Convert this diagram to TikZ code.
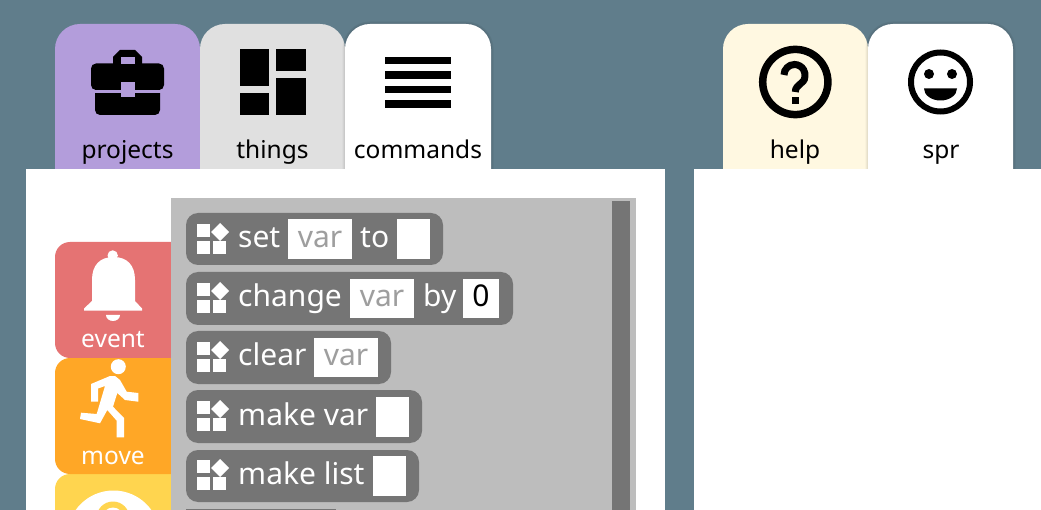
\documentclass[tikz,border=0pt]{standalone}
\usepackage{fontspec}
\setmainfont{Noto Sans}
\usetikzlibrary{positioning,shapes.geometric}
\definecolor{backblue}{HTML}{607D8B}
\definecolor{projcol}{HTML}{B39DDB}
\definecolor{thingcol}{HTML}{E0E0E0}
\definecolor{helpcol}{HTML}{FFF8E1}
\definecolor{eventcol}{HTML}{E57373}
\definecolor{movecol}{HTML}{FFA726}
\definecolor{looksol}{HTML}{FFD54F}
\definecolor{panelcol}{HTML}{BDBDBD}
\definecolor{blockcol}{HTML}{757575}
\definecolor{varcol}{HTML}{9E9E9E}
\newcommand{\toptab}[3]{\fill[#3,rounded corners=25pt] (#1,200) -- (#1,24) -- (#2,24) -- (#2,200) -- cycle;}
\newcommand{\tabshade}[2]{%
  \draw[black,opacity=.05,line width=5pt,rounded corners=25pt] (#1,200) -- (#1,24) -- (#2,24) -- (#2,200);
  \draw[black,opacity=.05,line width=2.5pt,rounded corners=25pt] (#1,200) -- (#1,24) -- (#2,24) -- (#2,200);}
\newcommand{\sidetab}[4]{\fill[#4,rounded corners=15pt] (200,#2) -- (#1,#2) -- (#1,#3) -- (200,#3) -- cycle;}
\newcommand{\blockicon}[2]{%
  \fill[white] (#1+.3,#2+2) rectangle ++(12.7,13);
  \fill[white] (#1+.3,#2+19) rectangle ++(12.7,13);
  \fill[white] (#1+16,#2+19) rectangle ++(13,13);
  \fill[white] (#1+23,#2+1) -- ++(9,9) -- ++(-9,9) -- ++(-9,-9) -- cycle;}
\tikzset{
  x=1pt,y=-1pt,
  tablab/.style={font=\fontsize{24.5}{28}\selectfont,text=black,inner sep=0pt,anchor=base},
  sidelab/.style={font=\fontsize{24.5}{28}\selectfont,text=white,inner sep=0pt,anchor=base},
  block/.style={fill=blockcol,rounded corners=12pt},
  blocklab/.style={font=\fontsize{30}{34}\selectfont,text=white,inner sep=0pt,anchor=base west},
  slot/.style={fill=white},
  varlab/.style={font=\fontsize{30}{34}\selectfont,text=varcol,inner sep=0pt,anchor=base},
}
\begin{document}
\begin{tikzpicture}
  \useasboundingbox (0,0) rectangle (1041,510);
  \fill[backblue] (0,0) rectangle (1041,510);
  % top tabs
  \toptab{55}{200}{projcol}
  \toptab{200}{345}{thingcol}
  \tabshade{345}{491}
  \toptab{345}{491}{white}
  \toptab{723}{868}{helpcol}
  \tabshade{868}{1013}
  \toptab{868}{1013}{white}
  \node[tablab] (projects) at (127.5,158.5) {projects};
  \node[tablab] (things) at (272.5,158.5) {things};
  \node[tablab] (commands) at (418,158.5) {commands};
  \node[tablab] (help) at (795,158.5) {help};
  \node[tablab] (spr) at (941,158.5) {spr};
  % briefcase
  \fill[black,rounded corners=5pt] (91,63.5) rectangle (164,90);
  \fill[black,rounded corners=5pt] (95,80) -- (160,80) -- (160,115) -- (95,115) -- cycle;
  \fill[projcol] (90,90) rectangle (165,93);
  \fill[black] (113,64) -- (113,57) -- (120,50) -- (135,50) -- (142,57) -- (142,64) -- cycle;
  \fill[projcol] (120.5,57) rectangle (135,64);
  \fill[projcol] (120.5,82) rectangle (135,97);
  % things icon
  \fill[black] (240,49) rectangle (269,86);
  \fill[black] (276,49) rectangle (306,71);
  \fill[black] (276,78) rectangle (306,115);
  \fill[black] (240,93) rectangle (269,115);
  % commands icon
  \foreach \y in {57,71.5,86,100.5} \fill[black] (385,\y) rectangle (451,\y+7.5);
  % help icon
  \draw[black,line width=7.5pt] (795.3,82) circle (32.6);
  \draw[black,line width=7pt] (784,75) arc (180:370:10.5) .. controls (804.84,84) and (795.3,84) .. (795.3,92);
  \fill[black] (791.8,97) rectangle (799,104);
  % smile icon
  \draw[black,line width=6pt] (940.5,82) circle (29.5);
  \fill[black] (929,74) circle (5);
  \fill[black] (952,74) circle (5);
  \fill[black] (957,88.5) arc [start angle=0,end angle=180,x radius=16.5,y radius=12] -- cycle;
  % panels
  \fill[white] (26,169) rectangle (665,510);
  \fill[white] (694,169) rectangle (1041,510);
  % side tabs
  \sidetab{55}{474}{590}{looksol}
  \sidetab{55}{358}{474}{movecol}
  \sidetab{55}{242}{358}{eventcol}
  \node[sidelab] (event) at (113,347.5) {event};
  \node[sidelab] (move) at (113,464) {move};
  % bell
  \fill[white] (112.7,255.5) circle (5.2);
  \fill[white] (84,310.7) -- (84,308.5) -- (92,301) -- (92,280) .. controls (92,265) and (100,257) .. (113.5,257) .. controls (127,257) and (135,265) .. (135,280) -- (135,301) -- (142,308.5) -- (142,310.7) -- cycle;
  \fill[white] (120,315) arc [start angle=0,end angle=180,x radius=7,y radius=6] -- cycle;
  % runner
  \fill[white] (118.3,366.7) circle (7.5);
  \fill[white] (91,384) -- (110,376) -- (115,376) -- (120,380) -- (126.7,391.7) -- (138.3,393) -- (138.3,401.7) -- (125,400) -- (117.3,393) -- (113,406.7) -- (124,418) -- (124,437.3) -- (116.7,437.3) -- (116.7,420.7) -- (107.3,410) -- (100,423.3) -- (80,419) -- (81,412.7) -- (96.7,414) -- (105,386) -- (98,388.5) -- (98,401.7) -- (91,401.7) -- cycle;
  % yellow icon
  \fill[white] (113.5,537) circle (46.5);
  \fill[looksol] (113,518) circle (16.5);
  \fill[white] (113,518) circle (10.5);
  % block panel
  \fill[panelcol] (171,198) rectangle (636,510);
  \fill[blockcol] (612,201) rectangle (630,510);
  % blocks
  \fill[block] (186,213) rectangle (443,265);
  \blockicon{197}{222}
  \node[blocklab] (setlab) at (238,248) {set};
  \fill[slot] (288,219) rectangle (352,259);
  \node[varlab] (setvar) at (320,248) {var};
  \node[blocklab] (tolab) at (360,248) {to};
  \fill[slot] (397,219) rectangle (430,259);
  \fill[block] (186,272) rectangle (513,325);
  \blockicon{197}{281}
  \node[blocklab] (changelab) at (238,307) {change};
  \fill[slot] (350,279) rectangle (414,318);
  \node[varlab] (changevar) at (382,307) {var};
  \node[blocklab] (bylab) at (423,307) {by};
  \fill[slot] (463,279) rectangle (499,318);
  \node[varlab,text=black] (zero) at (481,307) {0};
  \fill[block] (186,331) rectangle (391,384);
  \blockicon{197}{340}
  \node[blocklab] (clearlab) at (238,366) {clear};
  \fill[slot] (314,338) rectangle (378,377);
  \node[varlab] (clearvar) at (346,366) {var};
  \fill[block] (186,390) rectangle (422,443);
  \blockicon{197}{399}
  \node[blocklab] (makevar) at (238,425) {make var};
  \fill[slot] (376,397) rectangle (409,437);
  \fill[block] (186,450) rectangle (419,502);
  \blockicon{197}{458}
  \node[blocklab] (makelist) at (238,484) {make list};
  \fill[slot] (373,456) rectangle (406,496);
  \fill[blockcol] (186,509) rectangle (336,510);
\end{tikzpicture}
\end{document}
